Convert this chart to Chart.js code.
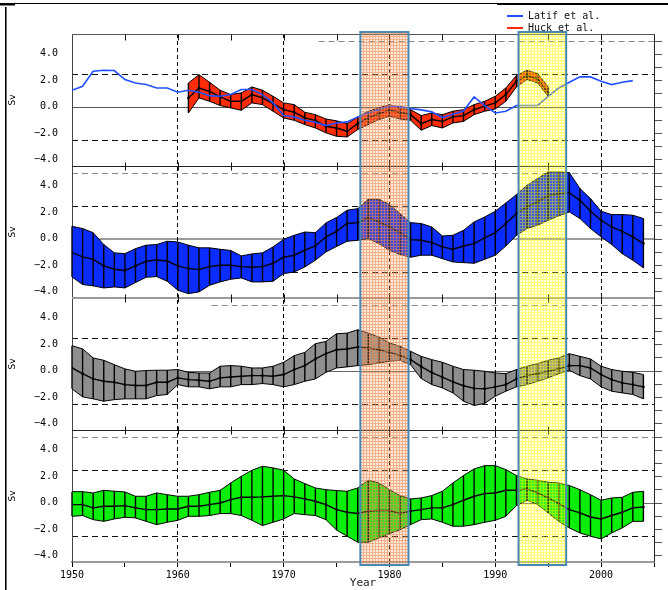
<!DOCTYPE html>
<html lang="en">
<head>
  <meta charset="UTF-8">
  <title>Transport anomalies (Sv), 1950-2004</title>
  <script src="https://cdn.jsdelivr.net/npm/chart.js"></script>
  <style>
    html, body { margin:0; padding:0; background:#fff; }
    #wrap { width:668px; height:590px; }
  </style>
</head>
<body>
  <div id="wrap"><canvas id="chart" width="668" height="590"></canvas></div>
  <script>
    // ---- data (Sv) ----
    const latifStart = 1950;   // 1950..2003
    const huckStart = 1961;    // 1961..1995
    const bandStart = 1950;    // model bands 1950..2004

    const latif = [
      1.24, 1.54, 2.68, 2.75, 2.73, 2.05, 1.79, 1.67, 1.41, 1.41,
      1.09, 1.24, 1.09, 0.83, 0.78, 0.91, 1.29, 1.29, 0.91, 0.28,
      -0.68, -0.78, -1.04, -1.19, -1.44, -1.24, -1.16, -0.78, -0.48, -0.23,
      0.03, 0.0, -0.15, -0.25, -0.4, -0.83, -0.58, -0.33, 0.73, 0.08,
      -0.48, -0.35, 0.08, 0.08, 0.08, 0.78, 1.41, 1.84, 2.25, 2.25,
      1.92, 1.67, 1.84, 1.97
    ];

    const huckHigh = [
      1.79, 2.42, 1.84, 1.24, 0.91, 1.04, 1.49, 1.24, 0.78,
      0.28, 0.15, -0.43, -0.61, -0.94, -1.08, -1.29, -0.78, -0.35, -0.1,
      0.15, -0.1, -0.23, -0.68, -0.48, -0.61, -0.35, -0.23, 0.15, 0.4,
      0.78, 1.41, 2.35, 2.75, 2.5, 1.49
    ];
    const huckMid = [
      0.66, 1.41, 1.16, 0.73, 0.4, 0.4, 0.91, 0.66, 0.23,
      -0.23, -0.43, -0.86, -1.04, -1.49, -1.62, -1.87, -1.29, -0.86, -0.53,
      -0.28, -0.43, -0.61, -1.29, -0.98, -1.12, -0.78, -0.68, -0.23, 0.03,
      0.28, 0.91, 1.92, 2.35, 2.1, 1.04
    ];
    const huckLow = [
      -0.48, 0.66, 0.4, 0.08, -0.1, -0.28, 0.28, 0.15, -0.35,
      -0.86, -1.04, -1.36, -1.62, -1.99, -2.25, -2.3, -1.74, -1.36, -0.98,
      -0.73, -0.94, -1.04, -1.79, -1.44, -1.62, -1.24, -1.12, -0.61, -0.35,
      -0.18, 0.4, 1.49, 2.05, 1.79, 0.78
    ];

    const blueHigh = [
      0.93, 0.76, 0.45, -0.45, -1.08, -1.14, -0.76, -0.5, -0.45, -0.2,
      -0.25, -0.5, -0.7, -0.7, -0.81, -0.9, -1.31, -1.16, -1.08, -0.63,
      -0.05, 0.25, 0.5, 0.45, 1.19, 1.6, 2.15, 2.27, 2.98, 2.98,
      2.58, 1.89, 1.21, 1.14, 0.88, 0.2, 0.25, 0.63, 1.26, 1.64,
      2.07, 2.7, 3.33, 4.04, 4.55, 5.05, 5.05, 5.0, 3.79, 3.03,
      2.07, 1.82, 1.82, 1.77, 1.52
    ];
    const blueMid = [
      -1.06, -1.39, -1.57, -2.07, -2.32, -2.42, -2.07, -1.72, -1.62, -1.7,
      -2.07, -2.27, -2.35, -2.12, -2.02, -2.02, -2.12, -2.17, -2.12, -1.87,
      -1.41, -1.26, -0.88, -0.56, 0.13, 0.55, 1.14, 1.21, 1.57, 1.26,
      0.88, 0.45, -0.08, -0.13, -0.3, -0.63, -0.81, -0.56, -0.38, 0.05,
      0.45, 1.14, 1.89, 2.4, 2.78, 3.28, 3.41, 3.48, 2.9, 2.07,
      1.39, 0.88, 0.55, 0.13, -0.38
    ];
    const blueLow = [
      -2.9, -3.48, -3.58, -3.74, -3.66, -3.74, -3.33, -2.93, -2.88, -3.23,
      -3.91, -4.17, -4.04, -3.54, -3.28, -3.08, -2.98, -3.28, -3.28, -3.23,
      -2.65, -2.53, -2.15, -1.64, -1.01, -0.6, -0.2, -0.13, 0.0, -0.38,
      -0.88, -1.21, -1.41, -1.26, -1.26, -1.52, -1.77, -1.82, -1.87, -1.57,
      -1.26, -0.56, 0.25, 0.76, 1.01, 1.39, 1.72, 2.02, 1.52, 0.76,
      0.13, -0.45, -1.14, -1.64, -2.22
    ];

    const grayHigh = [
      1.89, 1.64, 0.96, 0.78, 0.45, 0.13, -0.05, 0.0, 0.03, 0.03,
      0.08, -0.13, -0.18, -0.18, 0.33, 0.38, 0.33, 0.2, 0.2, 0.33,
      0.63, 1.13, 1.38, 2.04, 2.21, 2.79, 2.84, 3.09, 2.84, 2.54,
      2.09, 1.84, 1.46, 1.08, 0.83, 0.63, 0.33, 0.08, 0.03, -0.05,
      -0.18, -0.23, 0.08, 0.33, 0.53, 0.78, 0.96, 1.28, 1.08, 0.88,
      0.33, 0.08, -0.05, -0.13, -0.3
    ];
    const grayMid = [
      0.2, -0.23, -0.63, -0.81, -0.88, -1.06, -1.13, -1.13, -0.88, -0.88,
      -0.55, -0.68, -0.73, -0.81, -0.55, -0.48, -0.43, -0.38, -0.38, -0.43,
      -0.3, 0.08, 0.38, 0.88, 1.28, 1.58, 1.64, 1.79, 1.71, 1.58,
      1.38, 1.15, 0.83, 0.3, -0.15, -0.5, -0.85, -1.15, -1.35, -1.38,
      -1.23, -1.06, -0.63, -0.38, -0.23, -0.05, 0.13, 0.38, 0.38, 0.2,
      -0.3, -0.68, -0.93, -1.06, -1.23
    ];
    const grayLow = [
      -1.38, -1.99, -2.14, -2.32, -2.2, -2.14, -2.14, -2.14, -1.89, -1.81,
      -1.06, -1.23, -1.23, -1.38, -1.23, -1.23, -1.06, -1.06, -0.98, -1.06,
      -1.23, -1.06, -0.81, -0.63, -0.13, 0.2, 0.28, 0.38, 0.45, 0.58,
      0.71, 0.78, 0.45, -0.6, -1.06, -1.31, -1.69, -2.32, -2.64, -2.49,
      -1.94, -1.56, -1.23, -1.06, -0.81, -0.55, -0.23, 0.03, -0.38, -0.63,
      -1.23, -1.56, -1.69, -1.81, -2.14
    ];

    const greenHigh = [
      0.83, 0.83, 0.73, 0.93, 0.86, 0.81, 0.48, 0.48, 0.73, 0.6,
      0.48, 0.48, 0.6, 0.78, 0.93, 1.49, 1.99, 2.45, 2.75, 2.63,
      2.45, 1.79, 1.44, 1.11, 0.98, 0.91, 0.86, 1.11, 1.69, 1.49,
      0.98, 0.53, 0.28, 0.35, 0.53, 0.86, 1.49, 2.05, 2.55, 2.8,
      2.8, 2.5, 2.05, 1.79, 1.69, 1.54, 1.49, 1.29, 0.98, 0.6,
      0.18, 0.35, 0.4, 0.78, 0.86
    ];
    const greenMid = [
      -0.15, -0.15, -0.4, -0.28, -0.28, -0.23, -0.4, -0.53, -0.53, -0.48,
      -0.48, -0.28, -0.28, -0.15, -0.03, 0.23, 0.4, 0.4, 0.43, 0.48,
      0.53, 0.43, 0.28, 0.1, -0.15, -0.53, -0.73, -0.83, -0.65, -0.6,
      -0.6, -0.83, -0.65, -0.53, -0.4, -0.4, -0.15, 0.18, 0.48, 0.68,
      0.73, 0.93, 0.93, 1.04, 0.73, 0.35, -0.08, -0.53, -0.78, -1.09,
      -1.24, -0.98, -0.73, -0.4, -0.33
    ];
    const greenLow = [
      -1.04, -0.98, -1.29, -1.42, -1.24, -1.11, -1.16, -1.42, -1.67, -1.49,
      -1.34, -1.04, -1.04, -0.98, -0.83, -0.83, -0.98, -1.34, -1.74, -1.49,
      -1.24, -0.83, -0.91, -0.98, -1.29, -2.08, -2.55, -3.0, -3.0, -2.68,
      -2.35, -2.05, -1.67, -1.29, -1.24, -1.49, -1.79, -1.79, -1.67, -1.49,
      -1.34, -1.04, -0.23, 0.18, -0.15, -0.78, -1.42, -1.92, -2.3, -2.55,
      -2.75, -2.3, -1.92, -1.42, -1.42
    ];

    const yTickValues = [-4, -3, -2, -1, 0, 1, 2, 3, 4, 5];
    const yLabelValues = [-4, -2, 0, 2, 4];
    const decadeYears = [1960, 1970, 1980, 1990, 2000];
    const highlightSpans = [[1977.25, 1981.8], [1992.2, 1996.7]];
    const legendLabels = ['Latif et al.', 'Huck et al.'];

    // ---- styling ----
    const tickFont = { family: 'DejaVu Sans Mono', size: 10 };
    const panelIds = ['p1', 'p2', 'p3', 'p4'];
    const panelLook = {
      p1: { zero: '#555', zeroW: 1, edge: '#555', edgeW: 1, fiveFrom: 1973.3 },
      p2: { zero: '#9a9a9a', zeroW: 2, edge: '#222', edgeW: 1, fiveFrom: 1950 },
      p3: { zero: '#666', zeroW: 1, edge: '#9a9a9a', edgeW: 2, fiveFrom: 1963.2 },
      p4: { zero: '#666', zeroW: 1, edge: '#222', edgeW: 1, fiveFrom: 1950 }
    };

    function pts(start, arr) {
      return arr.map((v, i) => ({ x: start + i, y: v }));
    }

    // a band = centre line (drawn last), upper edge (filled to lower, carries the bars), lower edge
    function band(axis, start, hi, mid, lo, color, label) {
      return [
        { label: label || '', data: pts(start, mid), yAxisID: axis, borderColor: '#000', borderWidth: 1.4,
          pointRadius: 1.3, pointBackgroundColor: '#000', pointBorderWidth: 0, fill: false },
        { data: pts(start, hi), yAxisID: axis, borderColor: '#000', borderWidth: 1, pointRadius: 0,
          backgroundColor: color, fill: '+1', bars: true },
        { data: pts(start, lo), yAxisID: axis, borderColor: '#000', borderWidth: 1, pointRadius: 0, fill: false }
      ];
    }

    const latifColor = '#2050ff';
    const huckColor = '#ff2c0a';

    const datasets = [
      { label: legendLabels[0], data: pts(latifStart, latif), yAxisID: 'p1', borderColor: latifColor,
        borderWidth: 1.6, pointRadius: 0, fill: false },
      ...band('p1', huckStart, huckHigh, huckMid, huckLow, huckColor, legendLabels[1]),
      ...band('p2', bandStart, blueHigh, blueMid, blueLow, '#0b2cff'),
      ...band('p3', bandStart, grayHigh, grayMid, grayLow, '#8e8e8e'),
      ...band('p4', bandStart, greenHigh, greenMid, greenLow, '#0aee0a')
    ];

    const yScales = {};
    panelIds.forEach((id, i) => {
      yScales[id] = {
        type: 'linear', position: 'left', stack: 'panels', stackWeight: 1, weight: panelIds.length - i,
        min: -4.5, max: 5.5,
        afterBuildTicks: s => { s.ticks = yTickValues.map(v => ({ value: v })); },
        afterFit: s => { s.width = 72; },
        ticks: {
          padding: 5, color: '#000', font: tickFont,
          callback: v => yLabelValues.includes(v) ? v.toFixed(1).replace('-', '\u2212') : ''
        },
        grid: {
          drawOnChartArea: false, tickLength: 9,
          tickColor: c => (c.tick && Math.abs(c.tick.value % 2) === 1) ? '#555' : 'rgba(0,0,0,0)'
        },
        border: { display: true, color: '#444', width: 1 },
        title: { display: true, text: 'Sv', color: '#000', font: { family: 'DejaVu Sans', size: 9 },
                 padding: { top: 7, bottom: 0 } }
      };
    });

    function hline(c, x1, x2, y, color, w, dash) {
      const yy = w % 2 ? Math.round(y) + 0.5 : Math.round(y);
      c.save();
      c.strokeStyle = color; c.lineWidth = w; c.setLineDash(dash || []);
      c.beginPath(); c.moveTo(x1, yy); c.lineTo(x2, yy); c.stroke();
      c.restore();
    }

    function gridPattern(c, line, fill) {
      const t = document.createElement('canvas');
      t.width = 3; t.height = 3;
      const g = t.getContext('2d');
      g.fillStyle = fill; g.fillRect(1, 1, 2, 2);
      g.fillStyle = line; g.fillRect(0, 0, 3, 1); g.fillRect(0, 1, 1, 2);
      return c.createPattern(t, 'repeat');
    }

    // reference lines under everything
    const refLines = {
      id: 'refLines',
      beforeDraw(chart) {
        const { ctx: c, chartArea: a, scales } = chart;
        panelIds.forEach(id => {
          const s = scales[id], look = panelLook[id];
          hline(c, a.left, a.right, s.getPixelForValue(0), look.zero, look.zeroW);
          [2.5, -2.5].forEach(v => hline(c, a.left, a.right, s.getPixelForValue(v), '#111', 1, [6, 4]));
          hline(c, scales.x.getPixelForValue(look.fiveFrom), a.right, s.getPixelForValue(5), '#888', 1, [6, 4]);
        });
      }
    };

    const errorBars = {
      id: 'errorBars',
      afterDatasetDraw(chart, args) {
        const ds = chart.data.datasets[args.index];
        if (!ds.bars) return;
        const hi = args.meta.data, lo = chart.getDatasetMeta(args.index + 1).data;
        const c = chart.ctx;
        c.save();
        c.strokeStyle = '#000'; c.lineWidth = 1.4;
        hi.forEach((p, i) => {
          const q = lo[i];
          c.beginPath(); c.moveTo(p.x, p.y); c.lineTo(q.x, q.y); c.stroke();
        });
        c.restore();
      }
    };

    let patterns = null;
    const panelFrame = {
      id: 'panelFrame',
      afterDatasetsDraw(chart) {
        const { ctx: c, chartArea: a, scales } = chart;
        const xs = scales.x;
        const years = xs.ticks.map(t => t.value);
        panelIds.forEach((id, i) => {
          const s = scales[id], look = panelLook[id];
          const y = Math.round(s.top) + 0.5;
          hline(c, a.left, a.right, s.top, look.edge, look.edgeW);
          c.save();
          c.strokeStyle = '#111'; c.lineWidth = 1;
          years.forEach(yr => {
            if (yr === 1950 || yr === 2005) return;
            const x = Math.round(xs.getPixelForValue(yr)) + 0.5;
            c.beginPath();
            if (i === 0) { c.moveTo(x, y); c.lineTo(x, y + 6); }
            else { c.moveTo(x, y - 4); c.lineTo(x, y + 4); }
            c.stroke();
          });
          c.strokeStyle = '#555';
          yTickValues.forEach(v => {
            const ty = Math.round(s.getPixelForValue(v)) + 0.5;
            c.beginPath(); c.moveTo(a.right, ty); c.lineTo(a.right + 8, ty); c.stroke();
          });
          c.restore();
        });
        c.save();
        c.strokeStyle = '#222'; c.lineWidth = 1;
        c.beginPath(); c.moveTo(Math.round(a.right) + 0.5, a.top); c.lineTo(Math.round(a.right) + 0.5, a.bottom); c.stroke();
        c.restore();

        // shaded periods on top of the bands
        if (!patterns) {
          patterns = [
            gridPattern(c, 'rgba(236,140,80,0.68)', 'rgba(242,165,110,0.24)'),
            gridPattern(c, 'rgba(255,255,0,0.55)', 'rgba(255,255,120,0.22)')
          ];
        }
        const top = a.top - 2, h = a.bottom - a.top + 5;
        highlightSpans.forEach(([y0, y1], k) => {
          const x0 = xs.getPixelForValue(y0), x1 = xs.getPixelForValue(y1);
          c.save();
          c.fillStyle = patterns[k];
          c.fillRect(x0, top, x1 - x0, h);
          c.strokeStyle = '#4a88b4'; c.lineWidth = 2;
          c.strokeRect(x0, top, x1 - x0, h);
          c.restore();
        });
      }
    };

    const legendFrame = {
      id: 'legendFrame',
      afterDraw(chart) {
        const c = chart.ctx;
        c.save();
        c.strokeStyle = '#000';
        c.lineWidth = 1;
        c.beginPath(); c.moveTo(0, 3.5); c.lineTo(668, 3.5); c.stroke();
        c.lineWidth = 2;
        c.beginPath(); c.moveTo(497, 4); c.lineTo(668, 4); c.stroke();
        c.beginPath(); c.moveTo(0, 4.5); c.lineTo(15, 4.5); c.stroke();
        c.lineWidth = 1.6;
        c.beginPath(); c.moveTo(5.8, 7); c.lineTo(5.8, 590); c.stroke();
        c.restore();

        const items = [
          { label: chart.data.datasets[0].label, color: chart.data.datasets[0].borderColor, y: 16 },
          { label: chart.data.datasets[1].label, color: huckColor, y: 28 }
        ];
        c.save();
        c.font = '10px "DejaVu Sans Mono"';
        c.textBaseline = 'middle';
        c.fillStyle = '#111';
        items.forEach(it => {
          hline(c, 507, 523, it.y, it.color, 2);
          c.fillText(it.label, 528, it.y);
        });
        c.restore();
      }
    };

    new Chart(document.getElementById('chart').getContext('2d'), {
      type: 'line',
      data: { datasets },
      options: {
        responsive: false,
        animation: false,
        devicePixelRatio: 1,
        layout: { padding: { top: 34, right: 14, bottom: 0, left: 0 } },
        elements: { line: { tension: 0 } },
        plugins: {
          legend: { display: false },
          tooltip: { enabled: false },
          filler: { drawTime: 'beforeDatasetsDraw', propagate: false }
        },
        scales: {
          x: {
            type: 'linear', position: 'bottom', min: 1950, max: 2005,
            afterFit: s => { s.height = 28; },
            ticks: {
              stepSize: 5, autoSkip: false, maxRotation: 0, padding: 2, color: '#000', font: tickFont,
              callback: v => v % 10 === 0 && v < 2005 ? String(v) : ''
            },
            grid: {
              drawOnChartArea: true, lineWidth: 1, tickLength: 5, tickColor: '#000',
              color: c => (c.tick && decadeYears.includes(c.tick.value)) ? '#000' : 'rgba(0,0,0,0)'
            },
            border: { display: true, color: '#9a9a9a', width: 2, dash: [4, 3] },
            title: { display: true, text: 'Year', color: '#222', font: { family: 'DejaVu Sans Mono', size: 11 },
                     padding: { top: 0, bottom: 0 } }
          },
          ...yScales
        }
      },
      plugins: [refLines, errorBars, panelFrame, legendFrame]
    });
  </script>
</body>
</html>
